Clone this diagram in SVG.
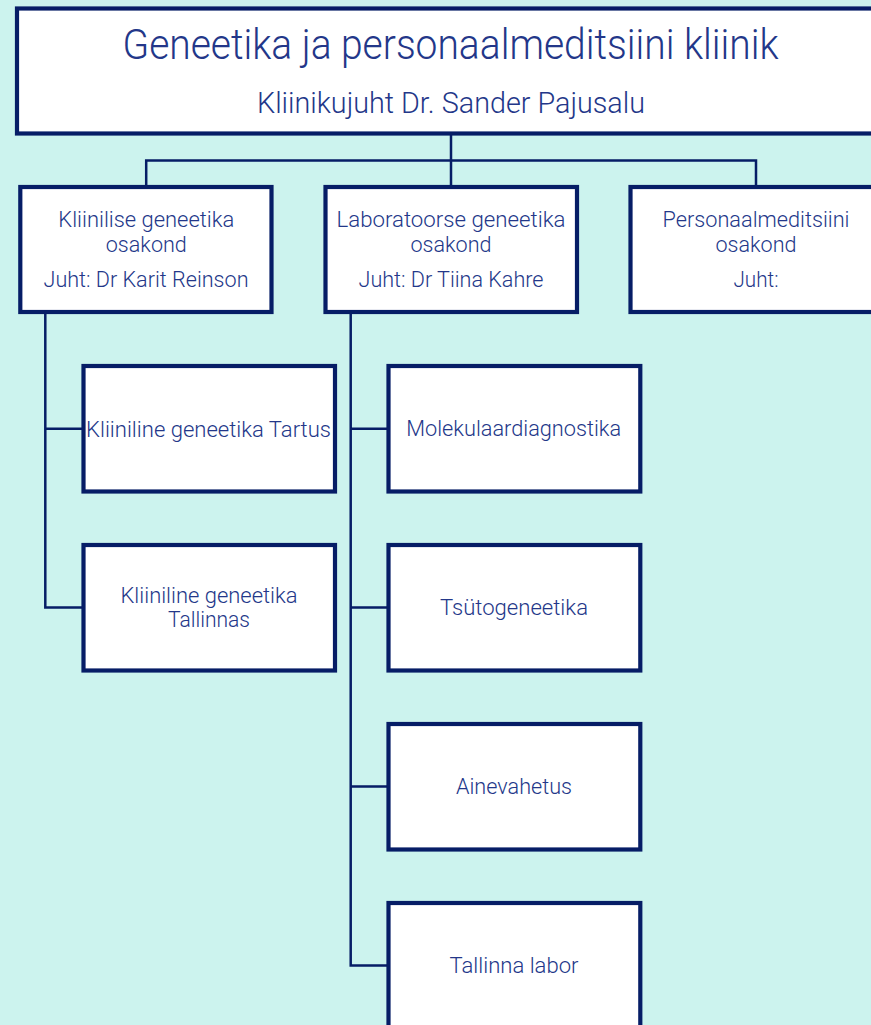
<svg xmlns="http://www.w3.org/2000/svg" width="871" height="1025" viewBox="0 0 871 1025">
<style>
.bg{fill:#ccf3ee}
.box{fill:#ffffff;stroke:#061d66;stroke-width:4.2}
.ln{fill:none;stroke:#061d66;stroke-width:2.5}
text{font-family:Roboto,"Liberation Sans",sans-serif;fill:#233789;text-anchor:middle;font-weight:300}
.t1{font-size:43px}
.t2{font-size:30px}
.t3{font-size:22px}
</style>
<rect class="bg" x="0" y="0" width="871" height="1025"/>
<g id="connectors">
<path class="ln" d="M451 133.5V160.5M146.2 187V160.5H756V187M451 160.5V187"/>
<path class="ln" d="M45.3 312V607.5H83.5M45.3 428.8H83.5"/>
<path class="ln" d="M350.7 312V965.5H388.5M350.7 428.8H388.5M350.7 607.5H388.5M350.7 786.5H388.5"/>
</g>
<g id="clinic">
<rect class="box" x="17" y="8.5" width="866" height="125"/>
<text class="t1" x="450.5" y="59" textLength="656" lengthAdjust="spacingAndGlyphs">Geneetika ja personaalmeditsiini kliinik</text>
<text class="t2" x="451" y="112.5" textLength="388" lengthAdjust="spacingAndGlyphs">Kliinikujuht Dr. Sander Pajusalu</text>
</g>
<g id="dept-clinical">
<rect class="box" x="20.3" y="187" width="251.2" height="125"/>
<text class="t3" x="146.3" y="226.7" textLength="176" lengthAdjust="spacingAndGlyphs">Kliinilise geneetika</text>
<text class="t3" x="146.3" y="252" textLength="81" lengthAdjust="spacingAndGlyphs">osakond</text>
<text class="t3" x="146" y="286.7" textLength="205" lengthAdjust="spacingAndGlyphs">Juht: Dr Karit Reinson</text>
</g>
<g id="dept-lab">
<rect class="box" x="325.5" y="187" width="251.5" height="125"/>
<text class="t3" x="451" y="226.7" textLength="229" lengthAdjust="spacingAndGlyphs">Laboratoorse geneetika</text>
<text class="t3" x="451" y="252" textLength="81" lengthAdjust="spacingAndGlyphs">osakond</text>
<text class="t3" x="451" y="286.7" textLength="185" lengthAdjust="spacingAndGlyphs">Juht: Dr Tiina Kahre</text>
</g>
<g id="dept-personal">
<rect class="box" x="630.5" y="187" width="251.5" height="125"/>
<text class="t3" x="756" y="226.7" textLength="187" lengthAdjust="spacingAndGlyphs">Personaalmeditsiini</text>
<text class="t3" x="756" y="252" textLength="81" lengthAdjust="spacingAndGlyphs">osakond</text>
<text class="t3" x="756" y="286.7" textLength="45" lengthAdjust="spacingAndGlyphs">Juht:</text>
</g>
<g id="clin-tartu">
<rect class="box" x="83.5" y="366" width="251.5" height="125.5"/>
<text class="t3" x="208.5" y="436.5" textLength="245" lengthAdjust="spacingAndGlyphs">Kliiniline geneetika Tartus</text>
</g>
<g id="clin-tallinn">
<rect class="box" x="83.5" y="545" width="251.5" height="125.5"/>
<text class="t3" x="209" y="602.7" textLength="177" lengthAdjust="spacingAndGlyphs">Kliiniline geneetika</text>
<text class="t3" x="209" y="627.3" textLength="82" lengthAdjust="spacingAndGlyphs">Tallinnas</text>
</g>
<g id="lab-molecular">
<rect class="box" x="388.5" y="366" width="251.8" height="125.5"/>
<text class="t3" x="513.7" y="436" textLength="215" lengthAdjust="spacingAndGlyphs">Molekulaardiagnostika</text>
</g>
<g id="lab-cyto">
<rect class="box" x="388.5" y="545" width="251.8" height="125.5"/>
<text class="t3" x="514" y="615" textLength="148" lengthAdjust="spacingAndGlyphs">Tsütogeneetika</text>
</g>
<g id="lab-metab">
<rect class="box" x="388.5" y="724" width="251.8" height="125.5"/>
<text class="t3" x="514" y="794" textLength="116" lengthAdjust="spacingAndGlyphs">Ainevahetus</text>
</g>
<g id="lab-tallinn">
<rect class="box" x="388.5" y="903" width="251.8" height="125.5"/>
<text class="t3" x="514" y="972.7" textLength="129" lengthAdjust="spacingAndGlyphs">Tallinna labor</text>
</g>
</svg>
